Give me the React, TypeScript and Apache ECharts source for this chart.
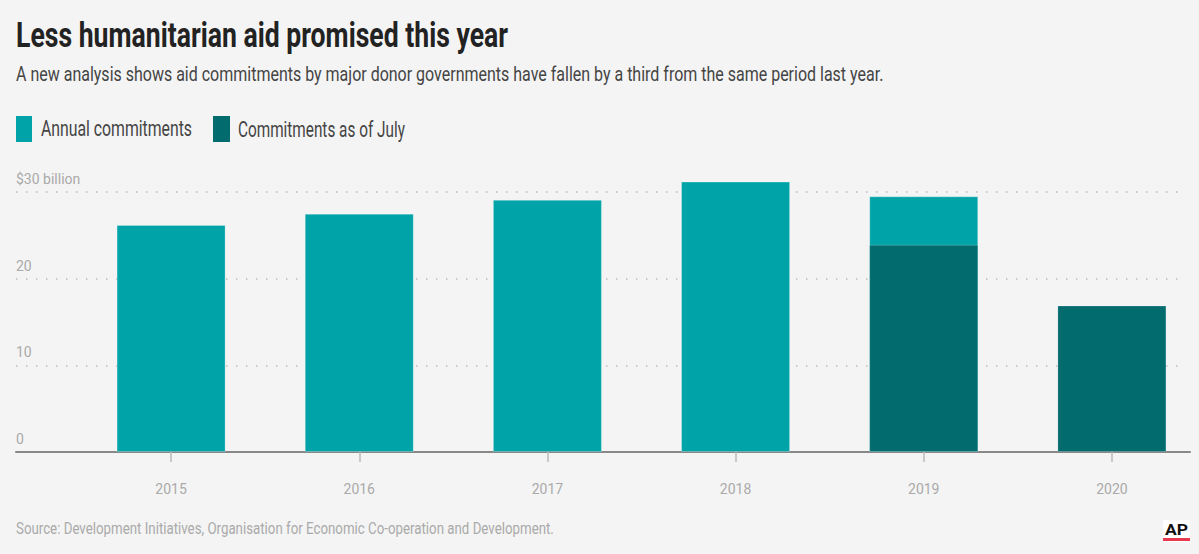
import React, { useEffect, useRef } from "react";
import * as echarts from "echarts";

const years = ["2015", "2016", "2017", "2018", "2019", "2020"];
const annualCommitments = [26.2, 27.5, 29.1, 31.2, 29.5, null];
const julyCommitments = [null, null, null, null, 23.9, 16.9];
const yTickLabels = ["0", "10", "20", "$30 billion"];
const seriesNames = ["Annual commitments", "Commitments as of July"];
const titleText = "Less humanitarian aid promised this year";
const subtitleText =
  "A new analysis shows aid commitments by major donor governments have fallen by a third from the same period last year.";
const sourceText =
  "Source: Development Initiatives, Organisation for Economic Co-operation and Development.";

const COLORS = ["#00a4a8", "#026b6e"];
const BG = "#f4f4f4";
const FONT = "Roboto";

function fitText(
  text: string,
  x: number,
  cy: number,
  width: number,
  size: number,
  weight: string,
  color: string
) {
  const ctx = document.createElement("canvas").getContext("2d")!;
  ctx.font = `${weight} ${size}px ${FONT}`;
  const w = ctx.measureText(text).width || width;
  return {
    type: "text",
    x,
    y: cy,
    scaleX: width / w,
    silent: true,
    style: {
      text,
      fill: color,
      fontFamily: FONT,
      fontSize: size,
      fontWeight: weight,
      align: "left",
      verticalAlign: "middle",
    },
  };
}

export default function App() {
  const ref = useRef<HTMLDivElement>(null);

  useEffect(() => {
    document.body.style.margin = "0";
    const chart = echarts.init(ref.current!, null, { renderer: "svg" });

    const option: any = {
      animation: false,
      backgroundColor: BG,
      textStyle: { fontFamily: FONT },
      grid: [
        { left: 16, right: 17, top: 192, bottom: 102, outerBoundsMode: "none" },
        { left: 16, right: 9, top: 192, bottom: 102, outerBoundsMode: "none" },
        { left: 77, width: 1129, top: 192, bottom: 102, outerBoundsMode: "none" },
      ],
      xAxis: [
        { gridIndex: 0, type: "value", min: 0, max: 1, show: false },
        {
          gridIndex: 1,
          type: "value",
          min: 0,
          max: 1,
          axisLine: { show: true, lineStyle: { color: "#888", width: 2 } },
          axisTick: { show: false },
          axisLabel: { show: false },
          splitLine: { show: false },
        },
        {
          gridIndex: 2,
          type: "category",
          data: years,
          axisLine: { show: false },
          axisTick: {
            show: true,
            alignWithLabel: true,
            length: 10,
            lineStyle: { color: "#bbb", width: 1.5 },
          },
          axisLabel: { color: "#aaa", fontSize: 14, margin: 30, fontFamily: FONT },
        },
      ],
      yAxis: [
        {
          gridIndex: 0,
          type: "value",
          min: 0,
          max: 30,
          interval: 10,
          axisLine: { show: false },
          axisTick: { show: false },
          splitLine: {
            show: true,
            lineStyle: { color: "#bdbdbd", width: 1.5, type: [1.5, 8.5] },
          },
          axisLabel: {
            inside: true,
            margin: 0,
            color: "#aaa",
            fontSize: 14,
            fontFamily: FONT,
            verticalAlign: "bottom",
            padding: [0, 0, 6, 0],
            formatter: (_v: number, i: number) => yTickLabels[i],
          },
        },
        { gridIndex: 1, type: "value", min: 0, max: 30, show: false },
        { gridIndex: 2, type: "value", min: 0, max: 30, show: false },
      ],
      series: [
        {
          name: seriesNames[0],
          type: "bar",
          xAxisIndex: 2,
          yAxisIndex: 2,
          data: annualCommitments,
          barWidth: 109,
          barGap: "-100%",
          clip: false,
          itemStyle: {
            color: COLORS[0],
            borderColor: "rgba(255,255,255,0.25)",
            borderWidth: 1,
          },
        },
        {
          name: seriesNames[1],
          type: "bar",
          xAxisIndex: 2,
          yAxisIndex: 2,
          data: julyCommitments,
          barWidth: 109,
          barGap: "-100%",
          clip: false,
          itemStyle: {
            color: COLORS[1],
            borderColor: "rgba(255,255,255,0.2)",
            borderWidth: 1,
          },
        },
      ],
      graphic: [
        fitText(titleText, 16, 35, 492, 35, "bold", "#222"),
        fitText(subtitleText, 16, 74, 868, 21, "normal", "#444"),
        { type: "rect", shape: { x: 16, y: 116, width: 16, height: 26 }, style: { fill: COLORS[0] }, silent: true },
        fitText(seriesNames[0], 41, 129, 151, 22, "normal", "#444"),
        { type: "rect", shape: { x: 213, y: 116, width: 17, height: 26 }, style: { fill: COLORS[1] }, silent: true },
        fitText(seriesNames[1], 238, 129, 167, 22, "normal", "#444"),
        fitText(sourceText, 16, 528, 538, 17, "normal", "#aaa"),
        { type: "rect", shape: { x: 1163, y: 520, width: 27, height: 22 }, style: { fill: "#fff" }, silent: true },
        fitText("AP", 1165, 530, 23, 14, "bold", "#111"),
        { type: "rect", shape: { x: 1163, y: 538, width: 27, height: 3 }, style: { fill: "#e8394f" }, silent: true },
      ],
    };

    chart.setOption(option);
    return () => chart.dispose();
  }, []);

  return (
    <div
      ref={ref}
      style={{ position: "fixed", left: 0, top: 0, width: 1199, height: 554 }}
    />
  );
}
